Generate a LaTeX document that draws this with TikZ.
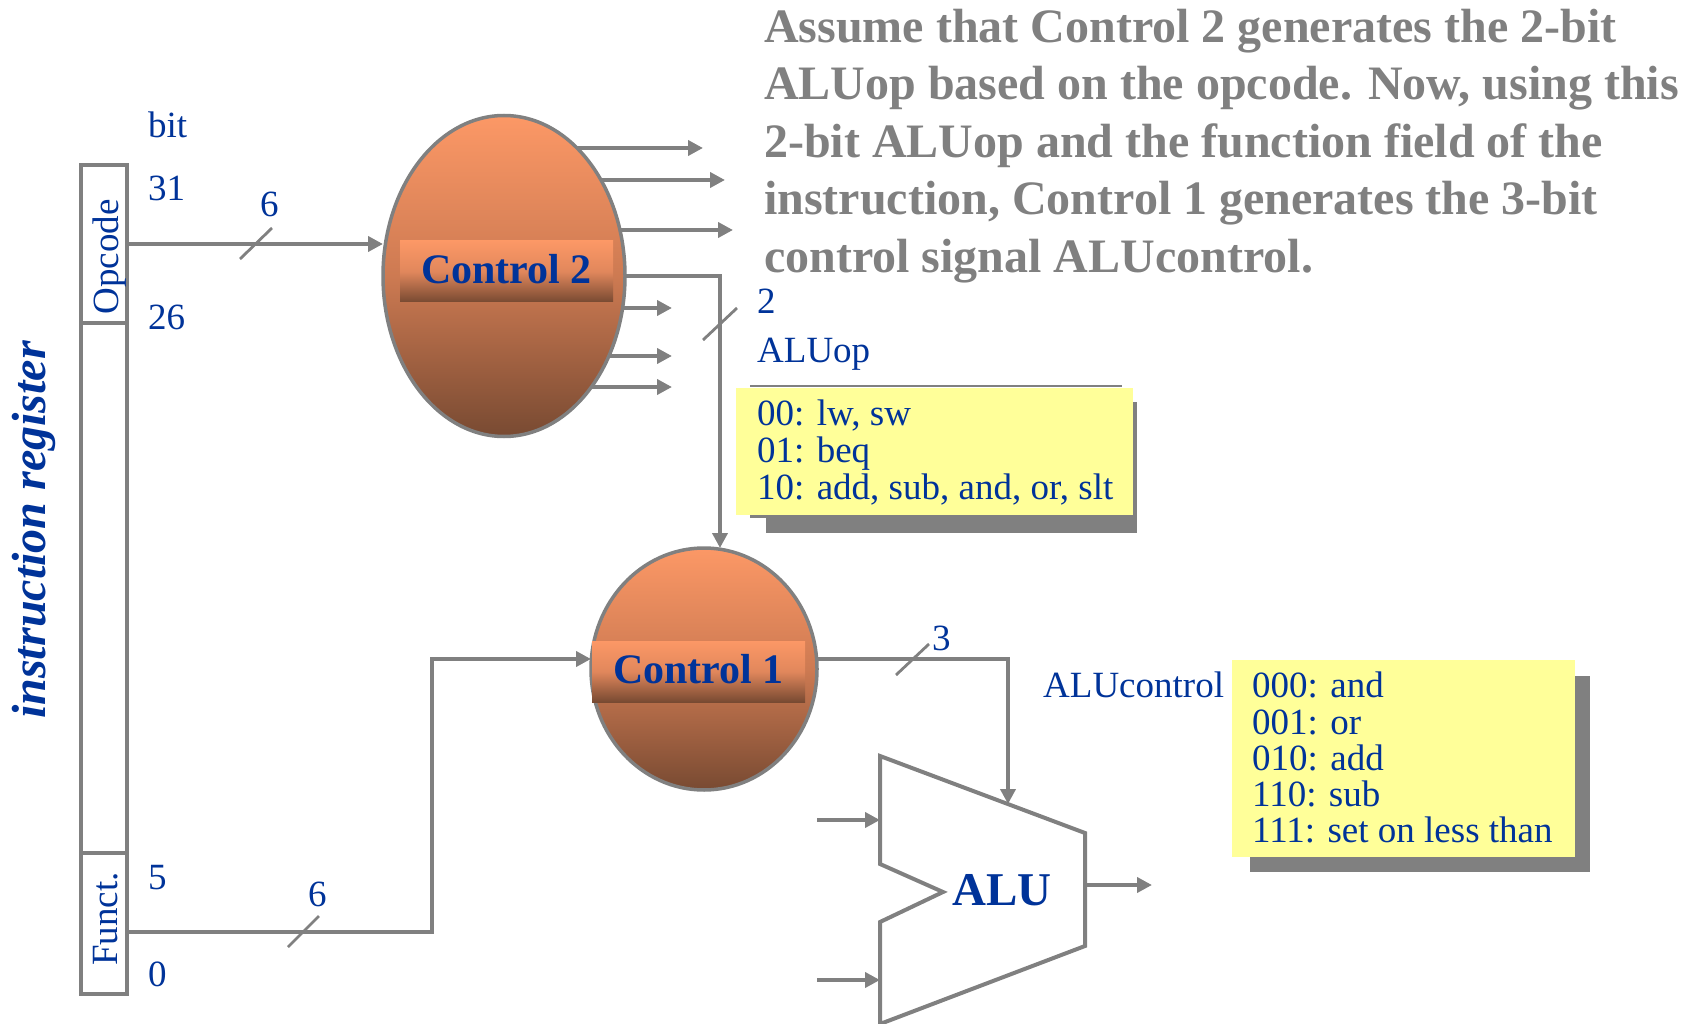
\documentclass[tikz,border=0pt]{standalone}
\usepackage{fontspec}
\setmainfont{Liberation Serif}
\usetikzlibrary{arrows.meta,shapes.geometric}
\definecolor{tblue}{RGB}{0,51,153}
\definecolor{lgray}{RGB}{128,128,128}
\definecolor{oran}{RGB}{252,152,102}
\definecolor{orm}{RGB}{205,122,82}
\definecolor{orl}{RGB}{225,135,92}
\definecolor{brn}{RGB}{120,74,50}
\definecolor{yel}{RGB}{255,255,153}
\begin{document}
\begin{tikzpicture}[x=1pt,y=-1pt,
  wire/.style={draw=lgray,line width=4pt},
  arr/.style={wire,-{Triangle[length=15pt,width=15pt]}},
  tickmark/.style={draw=lgray,line width=2.8pt},
  lbl/.style={text=tblue,font=\fontsize{37}{37}\selectfont,inner sep=0pt,anchor=base west},
  ttl/.style={text=lgray,font=\fontsize{48}{48}\selectfont\bfseries,inner sep=0pt,anchor=base west},
  field/.style={draw=lgray,line width=4pt,rectangle,inner sep=0pt,outer sep=0pt,minimum width=46pt},
  ctrl/.style={ellipse,draw=lgray,line width=3.5pt,inner sep=0pt,outer sep=0pt,
               top color=oran,bottom color=brn,middle color=orm},
  ctrllabel/.style={rectangle,inner sep=0pt,outer sep=0pt,minimum width=213pt,minimum height=61pt,
               top color=oran,bottom color=brn,middle color=orl,text depth=6pt,
               text=tblue,font=\fontsize{42}{42}\selectfont\bfseries},
  shadowbox/.style={rectangle,fill=lgray,inner sep=0pt,outer sep=0pt},
  yellowbox/.style={rectangle,fill=yel,inner sep=0pt,outer sep=0pt},
  rule/.style={draw=lgray,line width=2.5pt}
]
\useasboundingbox (0,0) rectangle (1689,1024);

% ---------- title text ----------
\node[ttl] (tl1) at (764,43)  {Assume that Control 2 generates the 2-bit};
\node[ttl] (tl2) at (764,100) {ALUop based on the opcode. Now, using this};
\node[ttl] (tl3) at (764,158) {2-bit ALUop and the function field of the};
\node[ttl] (tl4) at (764,215) {instruction, Control 1 generates the 3-bit};
\node[ttl] (tl5) at (764,273) {control signal ALUcontrol.};

% ---------- instruction register ----------
\node[rotate=90,text=tblue,font=\fontsize{48}{48}\selectfont\bfseries\itshape,inner sep=0pt] (ireg) at (34,530) {instruction register};
\node[field,minimum height=158pt] (opf)  at (104,244)   {};
\node[field,minimum height=530pt] (midf) at (104,588)   {};
\node[field,minimum height=141pt] (fnf)  at (104,923.5) {};
\node[rotate=90,text=tblue,font=\fontsize{37}{37}\selectfont,inner sep=0pt] (opt) at (110,257) {Opcode};
\node[rotate=90,text=tblue,font=\fontsize{37}{37}\selectfont,inner sep=0pt] (fnt) at (106,919) {Funct.};

\node[lbl] (bit) at (148,138) {bit};
\node[lbl] (b31) at (148,201) {31};
\node[lbl] (b26) at (148,329) {26};
\node[lbl] (b5)  at (148,889) {5};
\node[lbl] (b0)  at (148,986) {0};

% ---------- ALUop table ----------
\draw[rule] (750,386) -- (1122,386);
\draw[rule] (750,516.5) -- (1122,516.5);
\node[shadowbox,minimum width=371pt,minimum height=131pt] (sh1) at (951.5,467.5) {};
\node[yellowbox,minimum width=397pt,minimum height=127pt] (yb1) at (934.5,451.5) {};
\node[lbl] (op1) at (757,425) {00: lw, sw};
\node[lbl] (op2) at (757,462) {01: beq};
\node[lbl] (op3) at (757,499) {10: add, sub, and, or, slt};

% ---------- ALUcontrol table ----------
\node[shadowbox,minimum width=340pt,minimum height=196pt] (sh2) at (1420,774) {};
\node[yellowbox,minimum width=343pt,minimum height=197pt] (yb2) at (1403.5,758.5) {};
\node[lbl] (ac1) at (1252,697) {000: and};
\node[lbl] (ac2) at (1252,734) {001: or};
\node[lbl] (ac3) at (1252,770) {010: add};
\node[lbl] (ac4) at (1252,806) {110: sub};
\node[lbl] (ac5) at (1252,842) {111: set on less than};

% ---------- controls ----------
\node[ctrl,minimum width=242pt,minimum height=321pt] (c2) at (504,276) {};
\node[ctrllabel] (c2l) at (506.5,271.5) {Control 2};
\node[ctrl,minimum width=226pt,minimum height=242pt] (c1) at (704,669) {};
\node[ctrllabel] (c1l) at (698.5,671.5) {Control 1};

% ---------- opcode wire ----------
\draw[arr] (opf.east) -- (opf.east -| c2.west);
\draw[tickmark] (240,259) -- (272,228);
\node[lbl] (w6a) at (260,217) {6};

% ---------- Control 2 outputs ----------
\coordinate (o1) at (577,148); \coordinate (e1) at (703,148);
\coordinate (o2) at (601,180); \coordinate (e2) at (725,180);
\coordinate (o3) at (620,230); \coordinate (e3) at (733,230);
\coordinate (o5) at (623,308); \coordinate (e5) at (672,308);
\coordinate (o6) at (609,356); \coordinate (e6) at (672,356);
\coordinate (o7) at (592,387); \coordinate (e7) at (672,387);
\draw[arr] (o1) -- (e1);
\draw[arr] (o2) -- (e2);
\draw[arr] (o3) -- (e3);
\draw[arr] (o5) -- (e5);
\draw[arr] (o6) -- (e6);
\draw[arr] (o7) -- (e7);
\coordinate (bend1) at (720,276);
\draw[arr] (c2.east) -- (bend1) -- (bend1 |- c1.north);
\draw[tickmark] (703,340) -- (737,308);
\node[lbl] (w2) at (757,313) {2};
\node[lbl] (aluop) at (757,362) {ALUop};

% ---------- funct wire ----------
\coordinate (fout) at (127,932);
\coordinate (fb1) at (432,932);
\coordinate (fb2) at (432,659);
\draw[arr] (fout) -- (fb1) -- (fb2) -- (fb2 -| c1.west);
\draw[tickmark] (288,947) -- (319,916);
\node[lbl] (w6b) at (308,906) {6};

% ---------- ALU ----------
\coordinate (aTL) at (880,756);
\coordinate (aN1) at (880,864);
\coordinate (aNp) at (943,892);
\coordinate (aN2) at (880,922);
\coordinate (aBL) at (880,1024);
\coordinate (aBR) at (1085,946);
\coordinate (aTR) at (1085,833);
\draw[wire,line join=miter] (aTL) -- (aN1) -- (aNp) -- (aN2) -- (aBL) -- (aBR) -- (aTR) -- cycle;
\node[text=tblue,font=\fontsize{47}{47}\selectfont\bfseries,inner sep=0pt,anchor=base] (alut) at (1002,905) {ALU};

% ALU control wire
\coordinate (c1out) at (817,659);
\coordinate (cb1) at (1008,659);
\coordinate (alutop) at (1008,804);
\draw[arr] (c1out) -- (cb1) -- (alutop);
\draw[tickmark] (896,675) -- (929,644);
\node[lbl] (w3) at (932,650) {3};
\node[lbl] (aluctl) at (1043,697) {ALUcontrol};

% ALU data in/out
\coordinate (ia) at (817,820); \coordinate (ja) at (880,820);
\coordinate (ib) at (817,980); \coordinate (jb) at (880,980);
\coordinate (ao) at (1085,885); \coordinate (ae) at (1152,885);
\draw[arr] (ia) -- (ja);
\draw[arr] (ib) -- (jb);
\draw[arr] (ao) -- (ae);
\end{tikzpicture}
\end{document}
